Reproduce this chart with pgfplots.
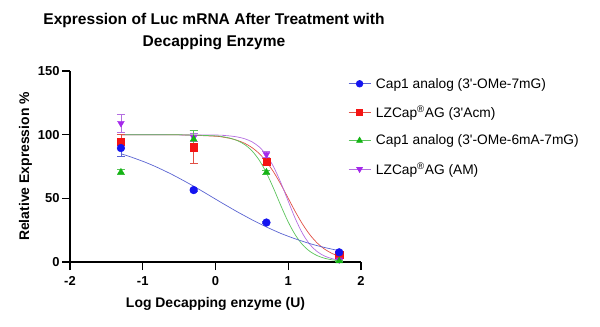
\documentclass[border=0pt]{standalone}
\usepackage{pgfplots}
\pgfplotsset{compat=1.18}
\usepackage{fontspec}
\setmainfont{Liberation Sans}
\definecolor{cblue}{RGB}{20,20,240}
\definecolor{lblue}{RGB}{90,100,210}
\definecolor{cred}{RGB}{245,20,20}
\definecolor{lred}{RGB}{225,80,70}
\definecolor{cgreen}{RGB}{20,180,20}
\definecolor{lgreen}{RGB}{90,195,90}
\definecolor{cpurple}{RGB}{165,40,235}
\definecolor{lpurple}{RGB}{180,110,225}
\begin{document}
\begin{tikzpicture}[x=1bp,y=1bp]
\useasboundingbox (0,0) rectangle (600,326);
\node[font=\fontsize{15.6}{23}\selectfont\bfseries,align=center] at (214,294.5) {Expression of Luc mRNA After Treatment with\\Decapping Enzyme};
\begin{axis}[
  at={(70bp,64bp)}, anchor=south west,
  scale only axis, width=291bp, height=191bp,
  xmin=-2, xmax=2, ymin=0, ymax=150,
  axis lines=left, axis line style={-, line width=1.4pt},
  xtick={-2,-1,0,1,2}, ytick={0,50,100,150},
  tick style={line width=1.4pt, black}, tickwidth=8bp,
  tick align=outside,
  /pgf/number format/assume math mode=true,
  ticklabel style={font=\fontsize{13}{15}\selectfont\bfseries},
  xticklabel style={yshift=-3bp},
  yticklabel style={xshift=1bp},
  xlabel={Log Decapping enzyme (U)},
  ylabel={Relative Expression \%},
  label style={font=\fontsize{14}{16}\selectfont\bfseries},
  xlabel style={yshift=-5bp},
  ylabel style={yshift=-1bp},
  clip=false,
  legend cell align=left,
  legend style={draw=none, fill=none, at={(0.945,0.985)}, anchor=north west,
    font=\fontsize{13.8}{16}\selectfont, row sep=12bp,
    /tikz/every odd column/.style={column sep=3bp}},
  legend image code/.code={\draw[mark repeat=2,mark phase=2] plot coordinates {(0bp,0bp) (11bp,0bp) (22bp,0bp)};},
]
% legend entries
\addlegendimage{lblue, line width=0.8pt, mark=*, mark options={cblue, fill=cblue}, mark size=3.3pt}
\addlegendentry{Cap1 analog (3\textquotesingle-OMe-7mG)}
\addlegendimage{lred, line width=0.8pt, mark=square*, mark options={cred, fill=cred}, mark size=3pt}
\addlegendentry{LZCap\textsuperscript{®}AG (3\textquotesingle Acm)}
\addlegendimage{lgreen, line width=0.8pt, mark=triangle*, mark options={cgreen, fill=cgreen}, mark size=3.3pt}
\addlegendentry{Cap1 analog (3\textquotesingle-OMe-6mA-7mG)}
\addlegendimage{lpurple, line width=0.8pt, mark=triangle*, mark options={cpurple, fill=cpurple, rotate=180}, mark size=3.3pt}
\addlegendentry{LZCap\textsuperscript{®}AG (AM)}

% fitted curves
\addplot[lred, line width=0.7pt, smooth, forget plot] coordinates {
(-1.3,100.0) (-0.5,99.86) (0,98.76) (0.1,98.09) (0.2,97.07) (0.3,95.53) (0.4,93.25) (0.5,89.91) (0.6,85.19) (0.7,78.79) (0.8,70.58) (0.9,60.77) (1.0,50.0) (1.1,39.23) (1.2,29.42) (1.3,21.21) (1.4,14.81) (1.5,10.09) (1.6,6.76) (1.7,4.47)};
\addplot[lpurple, line width=0.7pt, smooth, forget plot] coordinates {
(-1.3,100.0) (0,99.68) (0.1,99.43) (0.2,98.99) (0.3,98.20) (0.4,96.82) (0.5,94.43) (0.6,90.42) (0.7,84.03) (0.8,74.56) (0.9,62.02) (1.0,47.66) (1.1,33.67) (1.2,22.04) (1.3,13.61) (1.4,8.07) (1.5,4.66) (1.6,2.65) (1.7,1.50)};
\addplot[lgreen, line width=0.7pt, smooth, forget plot] coordinates {
(-1.3,100.0) (-0.5,99.9) (0,99.05) (0.1,98.38) (0.2,97.25) (0.3,95.35) (0.4,92.26) (0.5,87.37) (0.6,80.07) (0.7,70.00) (0.8,57.54) (0.9,44.05) (1.0,31.37) (1.1,20.98) (1.2,13.36) (1.3,8.22) (1.4,4.94) (1.5,2.93) (1.6,1.72) (1.7,1.01)};
\addplot[lblue, line width=0.7pt, smooth, forget plot] coordinates {
(-1.3,85.0) (-1.2,83.2) (-1.1,81.2) (-1.0,79.1) (-0.9,76.8) (-0.8,74.3) (-0.7,71.6) (-0.6,68.8) (-0.5,65.8) (-0.4,62.7) (-0.3,59.5) (-0.2,56.2) (-0.1,52.8) (0,49.4) (0.1,46.0) (0.2,42.7) (0.3,39.4) (0.4,36.3) (0.5,33.2) (0.6,30.3) (0.7,27.5) (0.8,24.9) (0.9,22.4) (1.0,20.2) (1.1,18.1) (1.2,16.2) (1.3,14.4) (1.4,12.8) (1.5,11.4) (1.6,10.1) (1.7,8.9)};

% data points with error bars
\addplot[only marks, mark=square*, mark size=3.6pt, cred, mark options={fill=cred}, forget plot,
  error bars/.cd, y dir=both, y explicit, error bar style={lred, line width=0.8pt}, error mark options={rotate=90, mark size=4pt, lred, line width=0.8pt}]
  table[x=x, y=y, y error=e] {
x y e
-1.3 94.6 5.5
-0.3 90.2 12.8
0.7 78.8 2.5
1.7 5.5 1.0
};
\addplot[only marks, mark=triangle*, mark size=3.9pt, cpurple, mark options={fill=cpurple, rotate=180}, forget plot,
  error bars/.cd, y dir=both, y explicit, error bar style={lpurple, line width=0.8pt}, error mark options={rotate=90, mark size=4pt, lpurple, line width=0.8pt}]
  table[x=x, y=y, y error=e] {
x y e
-1.3 109.0 7.2
-0.3 98.0 3.0
0.7 84.5 2.0
1.7 1.8 0.5
};
\addplot[only marks, mark=triangle*, mark size=3.9pt, cgreen, mark options={fill=cgreen}, forget plot,
  error bars/.cd, y dir=both, y explicit, error bar style={lgreen, line width=0.8pt}, error mark options={rotate=90, mark size=4pt, lgreen, line width=0.8pt}]
  table[x=x, y=y, y error=e] {
x y e
-1.3 70.5 2.0
-0.3 96.5 6.5
0.7 70.5 1.5
1.7 0.8 0.5
};
\addplot[only marks, mark=*, mark size=3.9pt, cblue, mark options={fill=cblue}, forget plot,
  error bars/.cd, y dir=both, y explicit, error bar style={lblue, line width=0.8pt}, error mark options={rotate=90, mark size=4pt, lblue, line width=0.8pt}]
  table[x=x, y=y, y error=e] {
x y e
-1.3 89.5 6.2
-0.3 56.5 1.0
0.7 31.0 1.0
1.7 7.6 1.0
};
\end{axis}
\end{tikzpicture}
\end{document}
